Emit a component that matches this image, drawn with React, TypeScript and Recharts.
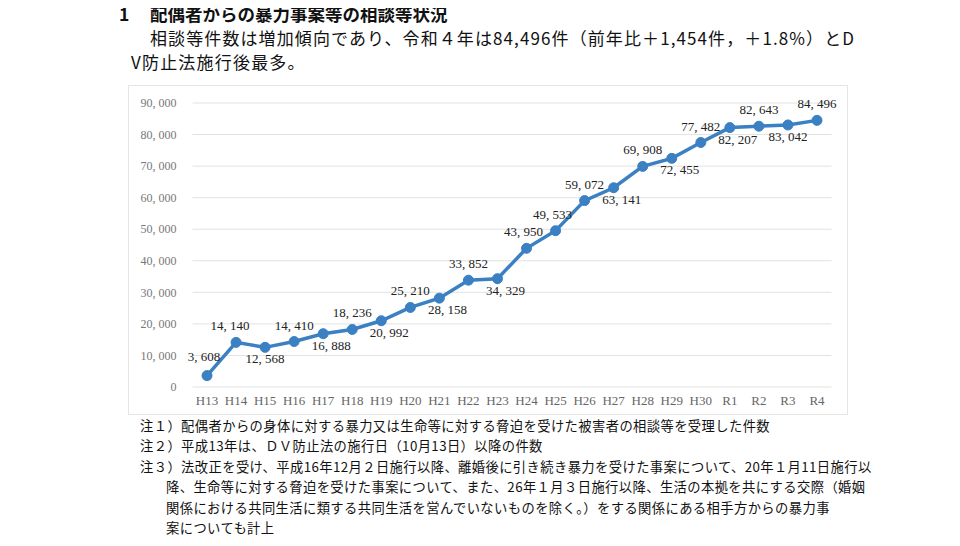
import React from 'react';
import { LineChart, Line, XAxis, YAxis, CartesianGrid, LabelList } from 'recharts';

const years = [
  'H13', 'H14', 'H15', 'H16', 'H17', 'H18', 'H19', 'H20', 'H21', 'H22', 'H23',
  'H24', 'H25', 'H26', 'H27', 'H28', 'H29', 'H30', 'R1', 'R2', 'R3', 'R4',
];
const counts = [
  3608, 14140, 12568, 14410, 16888, 18236, 20992, 25210, 28158, 33852, 34329,
  43950, 49533, 59072, 63141, 69908, 72455, 77482, 82207, 82643, 83042, 84496,
];
const yTicks = [0, 10000, 20000, 30000, 40000, 50000, 60000, 70000, 80000, 90000];
// which side of the point each value label sits on
const labelBelow = [
  false, false, true, false, true, false, true, false, true, false, true,
  false, false, false, true, false, true, false, true, false, true, false,
];

const data = years.map((y, i) => ({ year: y, value: counts[i] }));

const fmt = (n: number) => n.toLocaleString('en-US').replace(/,/g, ', ');

const jp = '"Noto Sans CJK JP", "Noto Sans", sans-serif';
const num = '"Liberation Serif", "DejaVu Serif", serif';

function ValueLabel(props: any) {
  const { x, y, value, index } = props;
  const below = labelBelow[index];
  let dy = below ? 16 : -12;
  let dx = below ? 8 : 0;
  if (index === 0) { dy = -15; dx = -3; }
  if (index === 1) dx = -6;
  if (index === 2 || index === 20) dx = 0;
  if (index === 11 || index === 12) dx = -3;
  return (
    <text
      x={x + dx}
      y={y + dy}
      textAnchor="middle"
      fontFamily={num}
      fontSize={13}
      fill="#222"
    >
      {fmt(value)}
    </text>
  );
}

export default function App() {
  return (
    <div style={{ position: 'relative', width: 960, height: 546, margin: -8, background: '#fff', overflow: 'hidden' }}>
      <div style={{ position: 'absolute', left: 119, top: 1, fontFamily: jp, fontWeight: 700, fontSize: 17.5, color: '#111', whiteSpace: 'nowrap' }}>
        1
      </div>
      <div style={{ position: 'absolute', left: 150, top: 1, fontFamily: jp, fontWeight: 700, fontSize: 17.5, color: '#111', whiteSpace: 'nowrap' }}>
        配偶者からの暴力事案等の相談等状況
      </div>
      <div style={{ position: 'absolute', left: 150, top: 25, fontFamily: jp, fontSize: 17, letterSpacing: 1.1, color: '#111', whiteSpace: 'nowrap' }}>
        相談等件数は増加傾向であり、令和４年は84,496件（前年比＋1,454件，＋1.8%）とD
      </div>
      <div style={{ position: 'absolute', left: 131, top: 49, fontFamily: jp, fontSize: 17, letterSpacing: 1.2, color: '#111', whiteSpace: 'nowrap' }}>
        V防止法施行後最多。
      </div>

      <div style={{ position: 'absolute', left: 128, top: 85, width: 720, height: 330, border: '1px solid #e6e6e6', boxSizing: 'border-box' }}>
        <LineChart width={720} height={330} data={data} margin={{ top: 17, right: 17.5, bottom: 9, left: 5.5 }}>
          <CartesianGrid vertical={false} stroke="#e2e2e2" />
          <XAxis
            dataKey="year"
            axisLine={false}
            tickLine={false}
            tickSize={0}
            tickMargin={9}
            height={20}
            interval={0}
            padding={{ left: 14.5, right: 14.5 }}
            tick={{ fontFamily: num, fontSize: 13, fill: '#666' }}
          />
          <YAxis
            domain={[0, 90000]}
            ticks={yTicks}
            axisLine={false}
            tickLine={false}
            tickSize={0}
            tickMargin={16}
            width={58}
            tickFormatter={fmt}
            tick={{ fontFamily: num, fontSize: 12, fill: '#777' }}
          />
          <Line
            type="linear"
            dataKey="value"
            stroke="#3a80c2"
            strokeWidth={3.5}
            dot={{ r: 5, fill: '#3a80c2', stroke: '#3a80c2', strokeWidth: 1 }}
            isAnimationActive={false}
          >
            <LabelList dataKey="value" content={<ValueLabel />} />
          </Line>
        </LineChart>
      </div>

      <div style={{ position: 'absolute', left: 140, top: 416, fontFamily: jp, fontSize: 13.3, letterSpacing: 0.4, lineHeight: '20.4px', color: '#111', whiteSpace: 'nowrap' }}>
        <div>注１）配偶者からの身体に対する暴力又は生命等に対する脅迫を受けた被害者の相談等を受理した件数</div>
        <div>注２）平成13年は、ＤＶ防止法の施行日（10月13日）以降の件数</div>
        <div>注３）法改正を受け、平成16年12月２日施行以降、離婚後に引き続き暴力を受けた事案について、20年１月11日施行以</div>
        <div style={{ paddingLeft: 26 }}>降、生命等に対する脅迫を受けた事案について、また、26年１月３日施行以降、生活の本拠を共にする交際（婚姻</div>
        <div style={{ paddingLeft: 26 }}>関係における共同生活に類する共同生活を営んでいないものを除く。）をする関係にある相手方からの暴力事</div>
        <div style={{ paddingLeft: 26 }}>案についても計上</div>
      </div>
    </div>
  );
}
